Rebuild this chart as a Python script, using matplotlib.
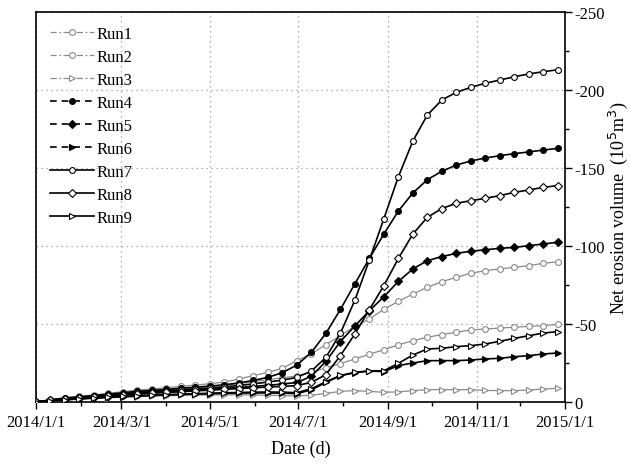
import datetime as dt
import matplotlib
matplotlib.use("Agg")
import matplotlib.pyplot as plt
import matplotlib.dates as mdates
from matplotlib.lines import Line2D
from matplotlib.ticker import MultipleLocator, FuncFormatter

plt.rcParams["font.family"] = ["Liberation Serif", "DejaVu Serif"]
plt.rcParams["axes.unicode_minus"] = False

# sample dates: every 10 days from 2014/1/1
dates = [dt.date(2014, 1, 1) + dt.timedelta(days=d) for d in range(0, 361, 10)]

# net erosion volume (10^5 m^3), negative = erosion
run1 = [0, -1.5, -2.8, -3.6, -4.5, -5.6, -6.6, -7.7, -8.3, -9.2, -10, -10.9, -11.7, -12.8, -14.7, -16.9, -19, -21.6,
        -26.5, -30.8, -36.8, -42.5, -48.5, -53.2, -59.4, -64.5, -69.2, -73.5, -77.1, -79.9, -82.5, -84.2, -85.3, -86.3, -87.4, -88.9, -89.9]
run2 = [0, -1.3, -2.4, -3.2, -4, -4.9, -5.8, -6.6, -7.2, -7.9, -8.6, -9.3, -10, -10.8, -11.8, -13, -14.3, -15.5,
        -16.7, -19.2, -21.8, -24.6, -27.6, -30.6, -33.5, -36.7, -39.2, -41.5, -43.2, -44.7, -46.2, -46.8, -47.4, -47.9, -48.5, -48.9, -49.8]
run3 = [0, -0.7, -1.3, -1.8, -2.3, -2.7, -3.1, -3.4, -3.7, -4, -4.2, -4.4, -4.5, -4.6, -4.6, -4.5, -4.3, -4.1,
        -3.9, -4.3, -5.5, -6.8, -7.3, -6.8, -6.2, -6.5, -7.3, -7.9, -7.9, -7.9, -7.9, -7.4, -7.3, -7.3, -7.7, -8.3, -8.8]
run4 = [0, -1.3, -2.5, -3.3, -4.1, -5, -5.9, -6.8, -7.4, -8.1, -8.8, -9.5, -10.2, -11, -12.2, -13.8, -15.8, -18.8,
        -23.7, -31.8, -44, -59.3, -75.8, -92, -107.7, -122.4, -134, -142.5, -147.9, -151.9, -154.5, -156.4, -157.9, -159.2, -160.3, -161.5, -162.6]
run5 = [0, -1.1, -2, -2.8, -3.4, -4.1, -4.8, -5.4, -6, -6.5, -7, -7.6, -8.1, -8.7, -9.3, -10, -10.7, -11.5,
        -12.5, -16.5, -26, -38.7, -48.8, -58.5, -67.5, -77.3, -85.3, -90.6, -93.2, -95.3, -96.6, -97.6, -98.5, -99.1, -100.2, -101.3, -102.4]
run6 = [0, -0.8, -1.4, -2, -2.5, -3, -3.4, -3.8, -4.2, -4.5, -4.8, -5.1, -5.3, -5.5, -5.7, -5.8, -5.8, -5.6,
        -5.4, -7.8, -12.5, -16.8, -18.8, -19.8, -19.5, -23.3, -25, -26.5, -26.5, -26.5, -26.9, -27.6, -28, -29, -29.7, -30.8, -31.4]
run7 = [0, -1.2, -2.2, -3, -3.7, -4.5, -5.3, -6, -6.6, -7.2, -7.8, -8.4, -9, -9.7, -10.6, -11.6, -12.8, -14,
        -15.8, -19.8, -28.6, -44, -65.3, -91, -117.5, -144.4, -167.3, -184, -193.6, -198.5, -201.7, -204.3, -206.4, -208.5, -210.3, -211.7, -213]
run8 = [0, -1, -1.9, -2.6, -3.2, -3.9, -4.5, -5.1, -5.6, -6.1, -6.6, -7.1, -7.6, -8.1, -8.6, -9.1, -9.6, -10,
        -10.5, -12.6, -17.5, -29.7, -43.6, -59.2, -74.6, -92, -107.7, -118.4, -124, -127.4, -129, -130.6, -132.3, -134.4, -135.9, -137.6, -138.7]
run9 = [0, -0.8, -1.5, -2.1, -2.6, -3.1, -3.6, -4, -4.4, -4.7, -5, -5.3, -5.6, -5.9, -6.1, -6.3, -6.4, -6.3,
        -6, -8.5, -13, -17, -19, -20, -20, -24.8, -30.1, -34, -34.4, -35.5, -36.1, -37.2, -38.9, -40.8, -42.5, -44.2, -45.1]

names = ["Run1", "Run2", "Run3", "Run4", "Run5", "Run6", "Run7", "Run8", "Run9"]
series = [run1, run2, run3, run4, run5, run6, run7, run8, run9]

gray = "#8a8a8a"
styles = [
    # color, legend linestyle, marker, face, lw
    (gray, (0, (5, 2, 1.5, 2)), "o", "white", 0.9),
    (gray, (0, (5, 2, 1.5, 2)), "o", "white", 0.9),
    (gray, (0, (5, 2, 1.5, 2)), ">", "white", 0.9),
    ("black", (0, (4, 3)), "o", "black", 1.2),
    ("black", (0, (4, 3)), "D", "black", 1.2),
    ("black", (0, (4, 3)), ">", "black", 1.2),
    ("black", "-", "o", "white", 1.2),
    ("black", "-", "D", "white", 1.2),
    ("black", "-", ">", "white", 1.2),
]

fig = plt.figure(figsize=(6.3, 4.64), dpi=100)
ax = fig.add_axes([0.057, 0.1315, 0.84, 0.8405])

handles = []
for name, vals, (c, ls, mk, fc, lw) in zip(names, series, styles):
    ms = 3.6 if mk == "D" else 4.2
    ax.plot(dates, vals, color=c, lw=lw, marker=mk, ms=ms, mfc=fc, mec=c, mew=0.8, zorder=3)
    handles.append(Line2D([], [], color=c, lw=lw, ls=ls, marker=mk, ms=ms, mfc=fc, mec=c, mew=0.8))

ax.set_xlim(dt.date(2014, 1, 1), dt.date(2015, 1, 1))
ax.set_ylim(0, -250)

ax.xaxis.set_major_locator(mdates.MonthLocator(bymonth=[1, 3, 5, 7, 9, 11]))
ax.xaxis.set_minor_locator(mdates.MonthLocator())
ax.xaxis.set_major_formatter(FuncFormatter(
    lambda x, pos: "{0.year}/{0.month}/{0.day}".format(mdates.num2date(x))))

ax.yaxis.tick_right()
ax.yaxis.set_label_position("right")
ax.yaxis.set_major_locator(MultipleLocator(50))
ax.yaxis.set_minor_locator(MultipleLocator(25))

ax.tick_params(which="both", direction="out", labelsize=12, width=1, color="black")
ax.tick_params(which="major", length=5)
ax.tick_params(which="minor", length=3)
ax.tick_params(axis="y", pad=2)

for s in ax.spines.values():
    s.set_linewidth(1.2)

ax.grid(which="major", ls=(0, (1, 3)), color="#999999", lw=0.9)

ax.set_xlabel("Date (d)", fontsize=13, labelpad=7)
ax.set_ylabel("Net erosion volume  (10$^5$m$^3$)", fontsize=13, labelpad=1, rotation=90)

ax.legend(handles, names, loc="upper left", frameon=False, fontsize=12,
          handlelength=2.6, handletextpad=0.15, labelspacing=0.42,
          borderaxespad=0.3, bbox_to_anchor=(0.005, 0.995))

fig.savefig("out.png", dpi=100)
